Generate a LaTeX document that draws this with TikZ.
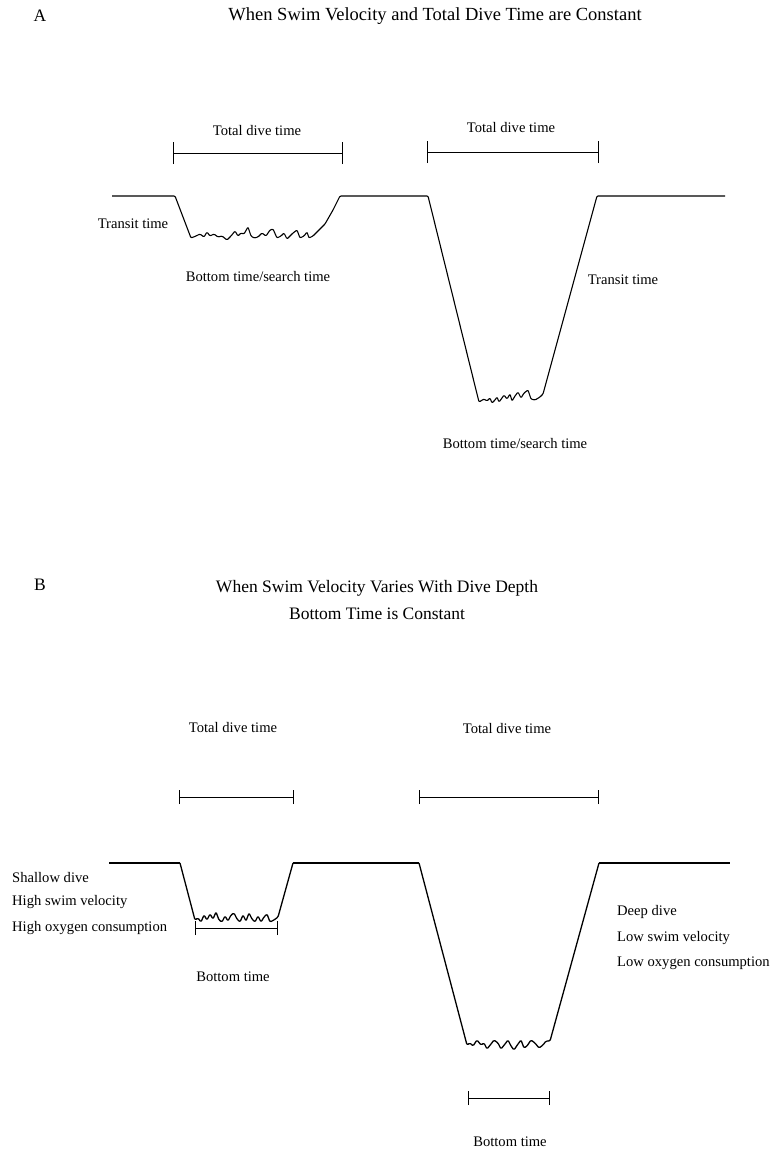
\documentclass[tikz,border=0pt]{standalone}
\usepackage{fontspec}
\setmainfont{Liberation Serif}
\begin{document}
\begin{tikzpicture}[x=1pt,y=-1pt,
  lbl/.style={font=\fontsize{14.6}{17}\selectfont, inner sep=0pt},
  ttl/.style={font=\fontsize{17.5}{20}\selectfont, inner sep=0pt},
  surf/.style={line width=1.1pt, line join=round},
  prof/.style={line width=1.3pt, line join=round, rounded corners=1.2pt},
  bar/.style={line width=1pt}]
\useasboundingbox (0,0) rectangle (773,1149);
% ---------- Panel A ----------
\node[ttl] (labA) at (40,16) {A};
\node[ttl, font=\fontsize{18.5}{21}\selectfont] (titA) at (435,16) {When Swim Velocity and Total Dive Time are Constant};
% brackets
\node[lbl] (tdA1) at (257,131) {Total dive time};
\coordinate (a1l) at (173,153); \coordinate (a1r) at (342,153);
\draw[bar] (a1l) -- (a1r);
\draw[bar] ([yshift=-11pt]a1l) -- ([yshift=11pt]a1l);
\draw[bar] ([yshift=-11pt]a1r) -- ([yshift=11pt]a1r);
\node[lbl] (tdA2) at (511,128) {Total dive time};
\coordinate (a2l) at (427,152); \coordinate (a2r) at (598,152);
\draw[bar] (a2l) -- (a2r);
\draw[bar] ([yshift=-11pt]a2l) -- ([yshift=11pt]a2l);
\draw[bar] ([yshift=-11pt]a2r) -- ([yshift=11pt]a2r);
% profile A
\draw[surf, rounded corners=1pt] (112,196) -- (175,196) -- (191,238)
  -- (196,236) -- (200,234) -- (204,237) -- (207,232) -- (210,236) -- (214,234) -- (218,237)
  -- (222,236) -- (227,240) -- (231,236) -- (235,231) -- (238,236) -- (241,233) -- (244,234)
  -- (248,227) -- (251,236) -- (254,238) -- (258,237) -- (262,233) -- (266,236) -- (270,230)
  -- (273,229) -- (277,238) -- (281,236) -- (284,233) -- (287,239) -- (290,236) -- (293,233)
  -- (297,230) -- (300,238) -- (304,236) -- (307,232) -- (309,238) -- (313,236) -- (317,232)
  -- (325,224) -- (333,210) -- (340,196) -- (428,196) -- (479,402)
  -- (484,399) -- (487,401) -- (490,398) -- (492,403) -- (495,400) -- (497,397) -- (499,402)
  -- (502,398) -- (504,395) -- (507,399) -- (510,394) -- (512,401) -- (515,396) -- (518,392)
  -- (521,398) -- (524,393) -- (528,390) -- (531,399) -- (535,400) -- (540,397) -- (543,394)
  -- (597,196) -- (725,196);
\node[lbl] (trA1) at (133,224) {Transit time};
\node[lbl] (btA1) at (258,276) {Bottom time/search time};
\node[lbl] (trA2) at (623,280) {Transit time};
\node[lbl] (btA2) at (515,443) {Bottom time/search time};
% ---------- Panel B ----------
\node[ttl] (labB) at (40,585) {B};
\node[ttl] (titB1) at (377,588) {When Swim Velocity Varies With Dive Depth};
\node[ttl] (titB2) at (377,614) {Bottom Time is Constant};
\node[lbl] (tdB1) at (233,727) {Total dive time};
\coordinate (b1l) at (179,797); \coordinate (b1r) at (293,797);
\draw[bar] (b1l) -- (b1r);
\draw[bar] ([yshift=-7pt]b1l) -- ([yshift=7pt]b1l);
\draw[bar] ([yshift=-7pt]b1r) -- ([yshift=7pt]b1r);
\node[lbl] (tdB2) at (507,728) {Total dive time};
\coordinate (b2l) at (419,797); \coordinate (b2r) at (598,797);
\draw[bar] (b2l) -- (b2r);
\draw[bar] ([yshift=-7pt]b2l) -- ([yshift=7pt]b2l);
\draw[bar] ([yshift=-7pt]b2r) -- ([yshift=7pt]b2r);
% profile B
\draw[surf] (109,863) -- (180,863);
\draw[prof] (180,863) -- (195,920)
  -- (198,918) -- (201,922) -- (204,915) -- (207,920) -- (210,914) -- (213,919) -- (216,912)
  -- (219,920) -- (222,922) -- (225,916) -- (228,921) -- (231,915) -- (234,913) -- (237,919)
  -- (240,922) -- (243,915) -- (246,921) -- (249,913) -- (252,919) -- (255,922) -- (258,916)
  -- (261,922) -- (264,917) -- (267,914) -- (270,922) -- (274,920) -- (278,917)
  -- (293,863);
\draw[surf] (293,863) -- (419,863);
\draw[prof] (419,863) -- (467,1045)
  -- (470,1043) -- (473,1046) -- (477,1040) -- (481,1045) -- (484,1043) -- (487,1049)
  -- (491,1044) -- (494,1040) -- (498,1043) -- (501,1049) -- (505,1044) -- (508,1040)
  -- (511,1046) -- (514,1050) -- (518,1044) -- (521,1040) -- (524,1048) -- (527,1046)
  -- (531,1040) -- (535,1043) -- (539,1048) -- (543,1045) -- (546,1041) -- (550,1041)
  -- (599,863);
\draw[surf] (599,863) -- (730,863);
\node[lbl, anchor=west] (sd) at (12,877) {Shallow dive};
\node[lbl, anchor=west] (hsv) at (12,902) {High swim velocity};
\node[lbl, anchor=west] (hoc) at (12,928) {High oxygen consumption};
\coordinate (c1l) at (195,928); \coordinate (c1r) at (277,928);
\draw[bar] (c1l) -- (c1r);
\draw[bar] ([yshift=-7pt]c1l) -- ([yshift=7pt]c1l);
\draw[bar] ([yshift=-7pt]c1r) -- ([yshift=7pt]c1r);
\node[lbl] (btB1) at (233,977) {Bottom time};
\node[lbl, anchor=west] (dd) at (617,912) {Deep dive};
\node[lbl, anchor=west] (lsv) at (617,938) {Low swim velocity};
\node[lbl, anchor=west] (loc) at (617,963) {Low oxygen consumption};
\coordinate (c2l) at (468,1098); \coordinate (c2r) at (549,1098);
\draw[bar] (c2l) -- (c2r);
\draw[bar] ([yshift=-7pt]c2l) -- ([yshift=7pt]c2l);
\draw[bar] ([yshift=-7pt]c2r) -- ([yshift=7pt]c2r);
\node[lbl] (btB2) at (510,1142) {Bottom time};
\end{tikzpicture}
\end{document}
